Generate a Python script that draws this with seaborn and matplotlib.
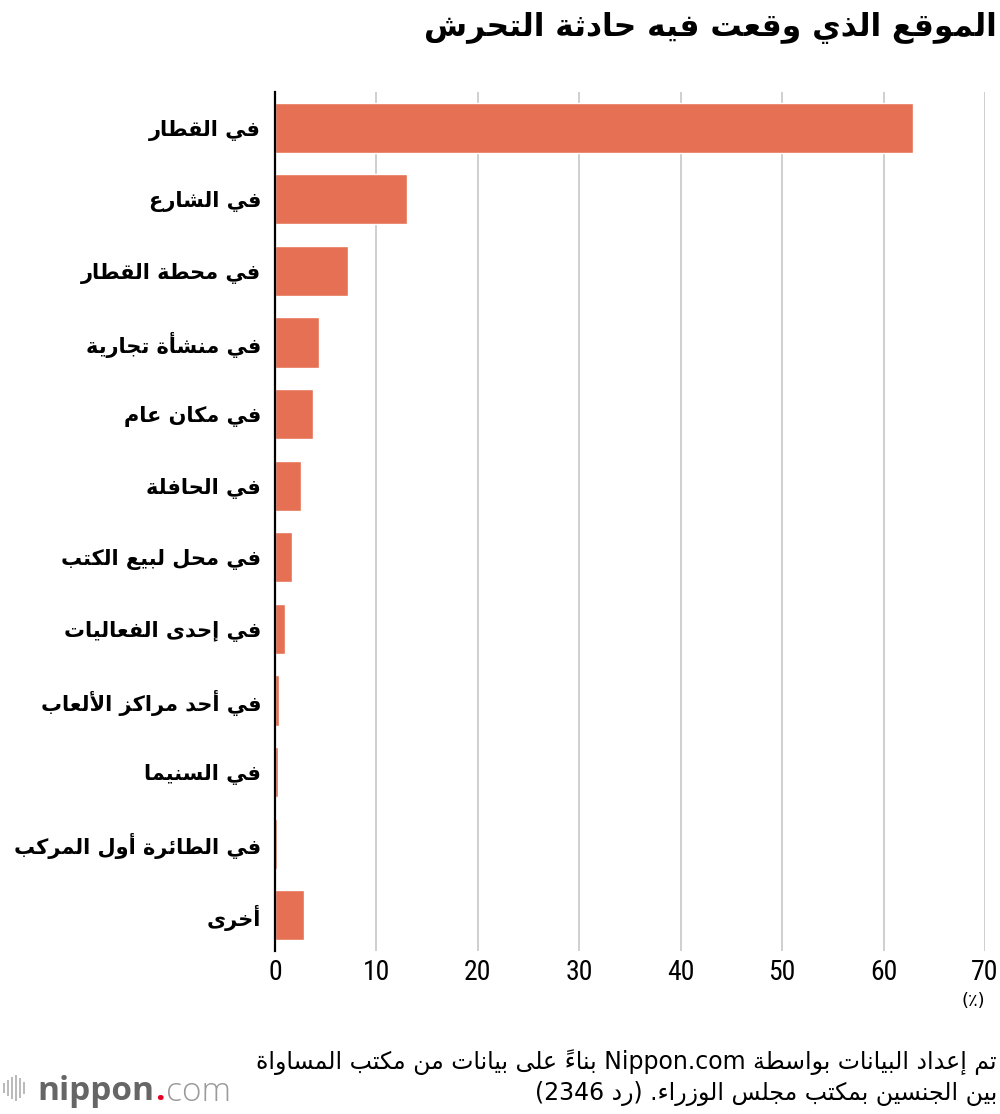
import re
import numpy as np
import pandas as pd
import matplotlib
matplotlib.use("Agg")
import matplotlib.pyplot as plt
from matplotlib.patches import Rectangle
import seaborn as sns

# ---------------- data ----------------
categories = [
    "في القطار",
    "في الشارع",
    "في محطة القطار",
    "في منشأة تجارية",
    "في مكان عام",
    "في الحافلة",
    "في محل لبيع الكتب",
    "في إحدى الفعاليات",
    "في أحد مراكز الألعاب",
    "في السنيما",
    "في الطائرة أول المركب",
    "أخرى",
]
values = [62.9, 13.0, 7.2, 4.3, 3.7, 2.6, 1.7, 1.0, 0.4, 0.3, 0.2, 2.9]
x_ticks = [0, 10, 20, 30, 40, 50, 60, 70]
title = "الموقع الذي وقعت فيه حادثة التحرش"
unit_label = "(٪)"
footer_lines = [
    "تم إعداد البيانات بواسطة Nippon.com بناءً على بيانات من مكتب المساواة",
    "بين الجنسين بمكتب مجلس الوزراء. (رد 2346)",
]

BAR = "#E57053"

# ---------------- minimal Arabic shaping + RTL ordering ----------------
_DUAL = "ئبتثجحخسشصضطظعغفقكلمنهي"
_RIGHT = "آأؤإاةدذرزوى"
_BASE = {'ء': 0xFE80, 'آ': 0xFE81, 'أ': 0xFE83, 'ؤ': 0xFE85, 'إ': 0xFE87,
         'ئ': 0xFE89, 'ا': 0xFE8D, 'ب': 0xFE8F, 'ة': 0xFE93, 'ت': 0xFE95,
         'ث': 0xFE99, 'ج': 0xFE9D, 'ح': 0xFEA1, 'خ': 0xFEA5, 'د': 0xFEA9,
         'ذ': 0xFEAB, 'ر': 0xFEAD, 'ز': 0xFEAF, 'س': 0xFEB1, 'ش': 0xFEB5,
         'ص': 0xFEB9, 'ض': 0xFEBD, 'ط': 0xFEC1, 'ظ': 0xFEC5, 'ع': 0xFEC9,
         'غ': 0xFECD, 'ف': 0xFED1, 'ق': 0xFED5, 'ك': 0xFED9, 'ل': 0xFEDD,
         'م': 0xFEE1, 'ن': 0xFEE5, 'ه': 0xFEE9, 'و': 0xFEED, 'ى': 0xFEEF,
         'ي': 0xFEF1}
_LAMALEF = {'آ': 0xFEF5, 'أ': 0xFEF7, 'إ': 0xFEF9, 'ا': 0xFEFB}
_MARKS = set(chr(c) for c in range(0x064B, 0x0653))
_MIRROR = {'(': ')', ')': '(', '[': ']', ']': '[', '«': '»', '»': '«'}
_LTR_RE = re.compile(r'[A-Za-z0-9]+(?:[.,:][A-Za-z0-9]+)*')


def _shape(s):
    ch = list(s)
    n = len(ch)
    out = []
    i = 0
    while i < n:
        c = ch[i]
        if c not in _BASE:
            out.append(c)
            i += 1
            continue
        j = i - 1
        while j >= 0 and ch[j] in _MARKS:
            j -= 1
        pj = j >= 0 and ch[j] in _DUAL
        k = i + 1
        while k < n and ch[k] in _MARKS:
            k += 1
        nxt = ch[k] if k < n else None
        if c == 'ل' and nxt in _LAMALEF:
            out.append(chr(_LAMALEF[nxt] + (1 if pj else 0)))
            out.extend(ch[i + 1:k])
            i = k + 1
            continue
        nj = c in _DUAL and nxt is not None and (nxt in _DUAL or nxt in _RIGHT)
        b = _BASE[c]
        if c in _DUAL:
            f = b + 3 if (pj and nj) else b + 1 if pj else b + 2 if nj else b
        elif c in _RIGHT:
            f = b + 1 if pj else b
        else:
            f = b
        out.append(chr(f))
        i += 1
    return ''.join(out)


def _clusters(s):
    cl = []
    for c in s:
        if c in _MARKS and cl:
            cl[-1] += c
        else:
            cl.append(c)
    return cl


def ar(s):
    s = _shape(s)
    parts, pos = [], 0
    for m in _LTR_RE.finditer(s):
        if m.start() > pos:
            parts.append(('R', s[pos:m.start()]))
        parts.append(('L', m.group()))
        pos = m.end()
    if pos < len(s):
        parts.append(('R', s[pos:]))
    vis = []
    for kind, t in reversed(parts):
        if kind == 'L':
            vis.append(t)
        else:
            # marks placed before their base so they sit over it
            vis.append(''.join(_MIRROR.get(c, c) if len(c) == 1 else c[1:] + c[0]
                               for c in reversed(_clusters(t))))
    return ''.join(vis)


# ---------------- plot ----------------
sns.set_theme(style="white")
plt.rcParams['font.family'] = ['DejaVu Sans']

W, H = 1000, 1114
fig = plt.figure(figsize=(W / 100, H / 100), dpi=100)
ax = fig.add_axes([275 / W, 1 - 951 / H, 710 / W, (951 - 92) / H])

df = pd.DataFrame({"cat": categories, "val": values})
sns.barplot(data=df, x="val", y="cat", order=categories, orient="h",
            color=BAR, saturation=1, width=0.7, ax=ax, errorbar=None)

ax.set_xlim(0, 70)
ax.set_ylim(len(categories) - 0.5, -0.5)
ax.set_xlabel("")
ax.set_ylabel("")

ax.set_xticks(x_ticks)
ax.set_xticklabels([str(t) for t in x_ticks], fontsize=20,
                   family=['Roboto Condensed', 'Liberation Sans Narrow', 'Roboto'])
ax.set_yticks(range(len(categories)))
ax.set_yticklabels([ar(c) for c in categories], fontsize=15, fontweight='bold')

ax.grid(axis='x', color='#cccccc', lw=1.3)
ax.grid(axis='y', visible=False)
ax.set_axisbelow(True)
for sp in ['top', 'right', 'bottom']:
    ax.spines[sp].set_visible(False)
ax.spines['left'].set_color('black')
ax.spines['left'].set_linewidth(1.6)
ax.tick_params(axis='x', length=5, width=1.3, pad=1, labelcolor='black', color='#cccccc')
ax.tick_params(axis='y', length=0, pad=10, labelcolor='black')

# title
fig.text(997 / W, 1 - 28 / H, ar(title), ha='right', va='center',
         fontsize=22.5, fontweight='bold', color='black')
# unit
fig.text(985 / W, 1 - 1001 / H, ar(unit_label), ha='right', va='center',
         fontsize=13, color='black')
# footer
fig.text(997 / W, 1 - 1062 / H, ar(footer_lines[0]), ha='right', va='center',
         fontsize=17, color='black')
fig.text(997 / W, 1 - 1093 / H, ar(footer_lines[1]), ha='right', va='center',
         fontsize=17, color='black')

# logo
bar_h = [10, 16, 22, 26, 20, 12]
for i, hgt in enumerate(bar_h):
    xpx = 3 + i * 4
    fig.add_artist(Rectangle((xpx / W, 1 - (1088 + hgt / 2) / H), 1.8 / W, hgt / H,
                             transform=fig.transFigure, color='#bbbbbb', lw=0))
renderer = fig.canvas.get_renderer()
t1 = fig.text(37 / W, 1 - 1088 / H, "nippon", ha='left', va='center_baseline',
              fontsize=24, fontweight='bold', color='#666666', family='Open Sans')
bb = t1.get_window_extent(renderer)
t2 = fig.text(bb.x1 / W + 1 / W, 1 - 1088 / H, ".", ha='left', va='center_baseline',
              fontsize=24, fontweight='bold', color='#e60026', family='Open Sans')
bb2 = t2.get_window_extent(renderer)
fig.text(bb2.x1 / W + 1 / W, 1 - 1088 / H, "com", ha='left', va='center_baseline',
         fontsize=24, fontweight='light', color='#9a9a9a', family='Open Sans')

fig.savefig("out.png", dpi=100, facecolor='white')
